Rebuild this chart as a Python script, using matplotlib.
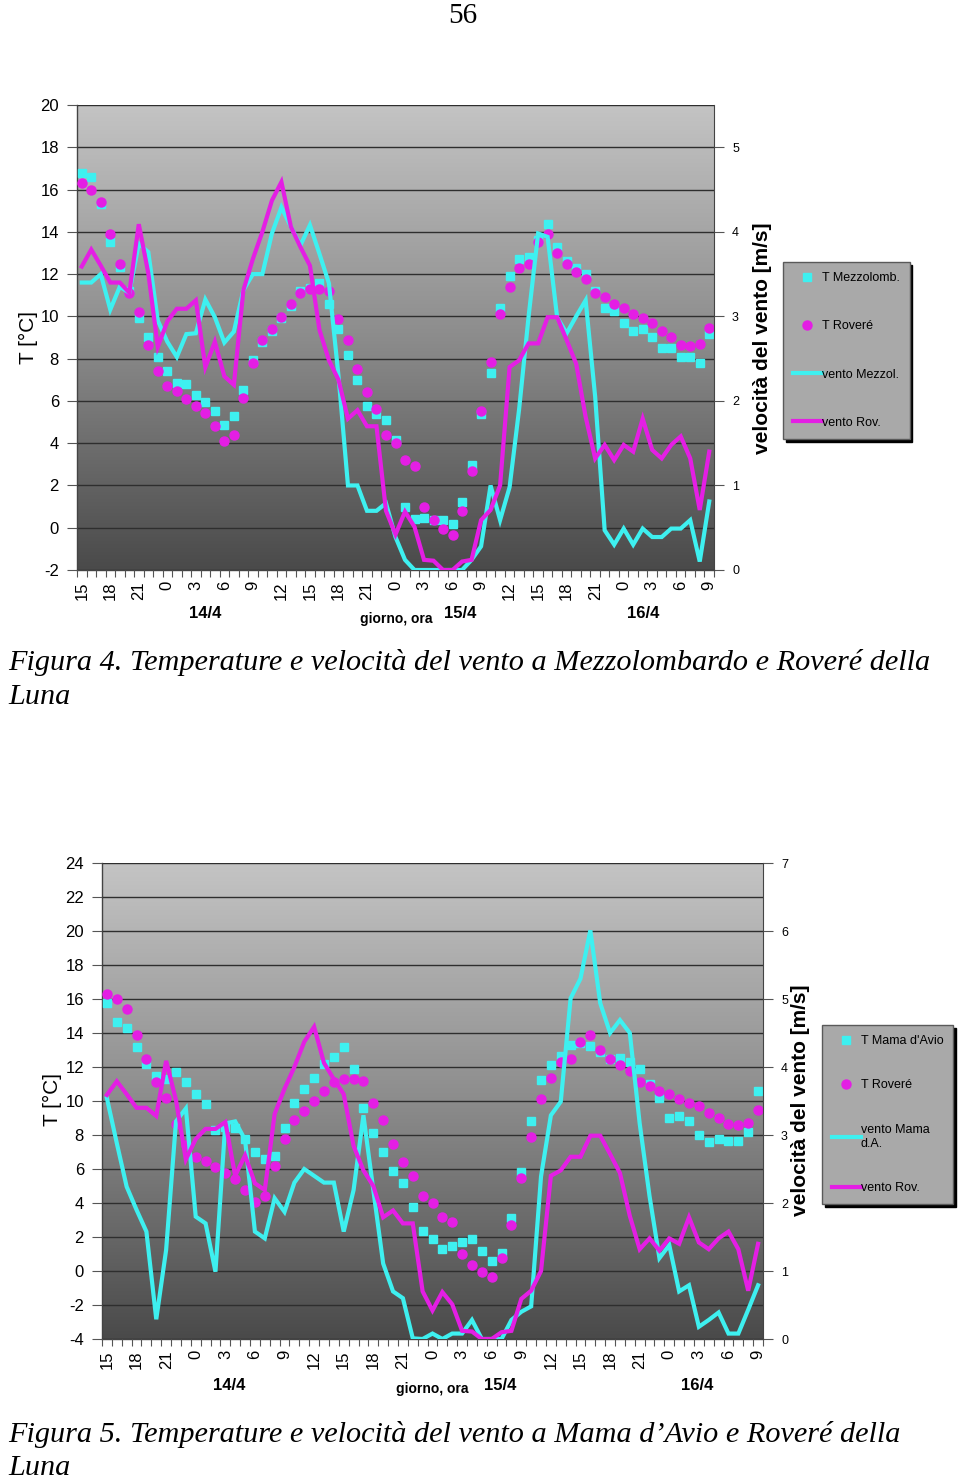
import numpy as np
import matplotlib
matplotlib.use('Agg')
import matplotlib.pyplot as plt
from matplotlib.colors import LinearSegmentedColormap

plt.rcParams['axes.unicode_minus'] = False

# ---------------- data ----------------
hour_labels = ['15', '18', '21', '0', '3', '6', '9', '12', '15', '18', '21', '0',
               '3', '6', '9', '12', '15', '18', '21', '0', '3', '6', '9']

t_mezzolomb = [16.8, 16.6, 15.3, 13.5, 12.35, 11.2, 9.9, 9.0, 8.1, 7.4, 6.87, 6.8,
               6.3, 5.97, 5.5, 4.87, 5.3, 6.5, 7.94, 8.8, 9.3, 9.9, 10.5, 11.2,
               11.35, 11.6, 10.6, 9.4, 8.18, 7.0, 5.77, 5.39, 5.1, 4.16, 1.0, 0.41,
               0.46, 0.35, 0.35, 0.16, 1.2, 2.96, 5.39, 7.3, 10.39, 11.9, 12.7, 12.8,
               13.6, 14.37, 13.3, 12.6, 12.3, 12.0, 11.2, 10.39, 10.27, 9.68, 9.3, 9.4,
               9.0, 8.5, 8.5, 8.1, 8.1, 7.79, 9.15]

t_rovere = [16.3, 16.0, 15.4, 13.9, 12.48, 11.1, 10.2, 8.65, 7.4, 6.7, 6.48, 6.1,
            5.78, 5.42, 4.79, 4.08, 4.4, 6.16, 7.79, 8.86, 9.4, 9.99, 10.6, 11.1,
            11.3, 11.3, 11.2, 9.88, 8.9, 7.5, 6.4, 5.6, 4.4, 4.0, 3.2, 2.9,
            1.0, 0.35, -0.05, -0.33, 0.77, 2.7, 5.5, 7.86, 10.1, 11.38, 12.28, 12.5,
            13.5, 13.9, 13.0, 12.5, 12.1, 11.77, 11.1, 10.9, 10.6, 10.39, 10.1, 9.9,
            9.7, 9.3, 9.0, 8.65, 8.6, 8.7, 9.47]

vento_mezzol = [3.40, 3.40, 3.50, 3.08, 3.35, 3.28, 3.86, 3.76, 2.95, 2.7, 2.52, 2.79,
                2.8, 3.2, 2.99, 2.69, 2.82, 3.31, 3.5, 3.5, 3.98, 4.29, 4.06, 3.84,
                4.08, 3.74, 3.39, 2.3, 1.0, 1.0, 0.7, 0.7, 0.79, 0.39, 0.12, 0.0,
                0.0, 0.0, 0.0, 0.0, 0.0, 0.12, 0.28, 1.0, 0.59, 0.98, 1.9, 3.0,
                3.98, 3.94, 2.99, 2.8, 3.0, 3.19, 2.05, 0.47, 0.3, 0.49, 0.3, 0.49,
                0.39, 0.39, 0.49, 0.49, 0.59, 0.1, 0.81]

vento_rov = [3.59, 3.79, 3.6, 3.4, 3.4, 3.28, 4.09, 3.51, 2.64, 2.94, 3.09, 3.09,
             3.19, 2.4, 2.7, 2.29, 2.19, 3.31, 3.68, 4.0, 4.37, 4.59, 4.06, 3.82,
             3.6, 2.84, 2.48, 2.25, 1.79, 1.89, 1.7, 1.7, 0.7, 0.42, 0.69, 0.51,
             0.12, 0.11, 0.0, 0.0, 0.1, 0.12, 0.59, 0.71, 1.0, 2.4, 2.48, 2.68,
             2.68, 2.99, 2.99, 2.72, 2.44, 1.81, 1.32, 1.48, 1.3, 1.48, 1.4, 1.79,
             1.42, 1.32, 1.48, 1.58, 1.32, 0.71, 1.4]

t_mama = [15.78, 14.67, 14.31, 13.2, 12.2, 11.49, 11.27, 11.72, 11.1, 10.39, 9.82, 8.3,
          8.5, 8.39, 7.75, 6.98, 6.59, 6.78, 8.39, 9.9, 10.68, 11.37, 12.2, 12.6,
          13.2, 11.88, 9.57, 8.1, 6.98, 5.88, 5.19, 3.78, 2.37, 1.88, 1.28, 1.49,
          1.69, 1.88, 1.18, 0.59, 1.04, 3.1, 5.84, 8.82, 11.24, 12.12, 12.66, 13.29,
          13.4, 13.24, 12.9, 12.5, 12.51, 12.31, 11.86, 11.0, 10.2, 9.02, 9.12, 8.82,
          8.0, 7.57, 7.76, 7.67, 7.67, 8.19, 10.58]

vento_mama = [3.54, 2.88, 2.24, 1.9, 1.58, 0.29, 1.31, 3.2, 3.39, 1.8, 1.7, 0.99,
              3.17, 3.2, 2.93, 1.58, 1.48, 2.07, 1.87, 2.3, 2.5, 2.4, 2.3, 2.3,
              1.58, 2.19, 3.29, 2.19, 1.11, 0.7, 0.6, 0.01, 0.0, 0.08, 0.0, 0.08,
              0.08, 0.28, 0.0, 0.0, 0.0, 0.28, 0.4, 0.48, 2.39, 3.29, 3.49, 5.01,
              5.3, 6.01, 4.94, 4.5, 4.69, 4.5, 3.17, 2.1, 1.19, 1.38, 0.7, 0.79,
              0.18, 0.28, 0.39, 0.08, 0.08, 0.43, 0.79]

# ---------------- style ----------------
W, H = 960, 1480
fig = plt.figure(figsize=(W / 100, H / 100), dpi=100)
SANS = ['Liberation Sans', 'DejaVu Sans']
SERIF = ['Liberation Serif', 'DejaVu Serif']
NARROW = ['Liberation Sans Narrow', 'Liberation Sans', 'DejaVu Sans']
CYAN = '#3ef0f0'
MAG = '#e41ee4'
DARK = '#2e2e2e'
bg_cmap = LinearSegmentedColormap.from_list('bg', ['#c4c4c4', '#8c8c8c', '#4a4a4a'])
leg_cmap = LinearSegmentedColormap.from_list('lg', ['#b8b8b8', '#9c9c9c'])
grad = np.linspace(0, 1, 256).reshape(-1, 1)


def ftext(x, y, s, **kw):
    return fig.text(x / W, 1 - y / H, s, **kw)


def chart(box, t_a, t_b, w_a, w_b, tmin, tmax, wmax, names, leg_anchor, ylab_x, ylab2_x, ylab_y,
          days, caption, cap_y, lspace):
    l, t, r, b = box
    ax = fig.add_axes([l / W, 1 - b / H, (r - l) / W, (b - t) / H])
    n = len(t_a)
    x = np.arange(n)
    ax.imshow(grad, extent=(0, 1, 0, 1), transform=ax.transAxes, aspect='auto',
              cmap=bg_cmap, zorder=0, interpolation='bilinear')
    ax.set_axisbelow(False)
    ax.yaxis.grid(True, color=DARK, lw=1.0)
    h1, = ax.plot(x, t_a, ls='none', marker='s', ms=6, color=CYAN, mec=CYAN, zorder=3)
    h2, = ax.plot(x, t_b, ls='none', marker='o', ms=6.5, color=MAG, mec=MAG, zorder=4)
    ax.set_xlim(-0.5, n - 0.5)
    ax.set_ylim(tmin, tmax)
    ax.set_yticks(range(tmin, tmax + 1, 2))
    ax.set_xticks(range(0, n, 3))
    ax.set_xticklabels(hour_labels, rotation=90, fontsize=12, family=SANS)
    ax.set_xticks(np.arange(-0.5, n, 1), minor=True)
    ax.tick_params(axis='x', which='major', length=0, pad=8)
    ax.tick_params(axis='x', which='minor', length=5, direction='out', color='#555', width=0.8)
    ax.tick_params(axis='y', length=7, direction='out', labelsize=12, color='#555', pad=6)
    for lab in ax.get_yticklabels():
        lab.set_family(SANS)
    ax.spines['top'].set_visible(False)
    ax.spines['right'].set_visible(False)
    for s in ('left', 'bottom'):
        ax.spines[s].set_color('#444')
        ax.spines[s].set_linewidth(1.0)

    ax2 = ax.twinx()
    h3, = ax2.plot(x, w_a, color=CYAN, lw=3, solid_joinstyle='miter')
    h4, = ax2.plot(x, w_b, color=MAG, lw=3, solid_joinstyle='miter')
    ax2.set_ylim(0, wmax)
    ax2.set_yticks(range(0, int(wmax) + 1))
    ax2.tick_params(axis='y', length=7, direction='out', labelsize=9, color='#555', pad=6)
    for lab in ax2.get_yticklabels():
        lab.set_family(SANS)
    for s in ('top', 'left', 'bottom'):
        ax2.spines[s].set_visible(False)
    ax2.spines['right'].set_color('#444')

    ftext(ylab_x, ylab_y, 'T [°C]', rotation=90, ha='center', va='center',
          fontsize=15, family=SANS)
    ftext(ylab2_x, ylab_y, 'velocità del vento [m/s]', rotation=90, ha='center', va='center',
          fontsize=15, fontweight='bold', family=SANS)

    for (dx, dy, s, fs) in days:
        ftext(dx, dy, s, ha='center', va='center', fontsize=fs, fontweight='bold', family=NARROW)

    leg = fig.legend([h1, h2, h3, h4], names, loc='upper left',
                     bbox_to_anchor=(leg_anchor[0] / W, 1 - leg_anchor[1] / H),
                     prop={'family': SANS, 'size': 9}, frameon=True, fancybox=False,
                     facecolor='#a9a9a9', edgecolor='#5a5a5a', framealpha=1,
                     shadow={'color': 'black', 'alpha': 1}, labelspacing=lspace,
                     handlelength=2.3, handletextpad=0.0, borderpad=0.8, borderaxespad=0)
    leg.get_frame().set_linewidth(1.0)

    ftext(8, cap_y, caption[0], ha='left', va='center', fontsize=21.8, style='italic', family=SERIF)
    ftext(8, cap_y + 34, caption[1], ha='left', va='center', fontsize=21.8, style='italic', family=SERIF)


ftext(463, 16, '56', ha='center', va='center', fontsize=21, family=SERIF)

chart((77, 105, 714, 570), t_mezzolomb, t_rovere, vento_mezzol, vento_rov, -2, 20, 5.5,
      ['T Mezzolomb.', 'T Roveré', 'vento Mezzol.', 'vento Rov.'],
      (783, 262), 28, 762, 338,
      [(205, 614, '14/4', 12), (396, 619, 'giorno, ora', 10), (460, 614, '15/4', 12),
       (643, 614, '16/4', 12)],
      ['Figura 4. Temperature e velocità del vento a Mezzolombardo e Roveré della', 'Luna'], 663,
      2.9)

chart((102, 863, 763, 1339), t_mama, t_rovere, vento_mama, vento_rov, -4, 24, 7,
      ["T Mama d'Avio", 'T Roveré', 'vento Mama\nd.A.', 'vento Rov.'],
      (822, 1025), 52, 800, 1100,
      [(229, 1385, '14/4', 12), (432, 1389, 'giorno, ora', 10), (500, 1385, '15/4', 12),
       (697, 1385, '16/4', 12)],
      ['Figura 5. Temperature e velocità del vento a Mama d\u2019Avio e Roveré della', 'Luna'], 1434,
      2.6)

fig.savefig('out.png', dpi=100, facecolor='white')
